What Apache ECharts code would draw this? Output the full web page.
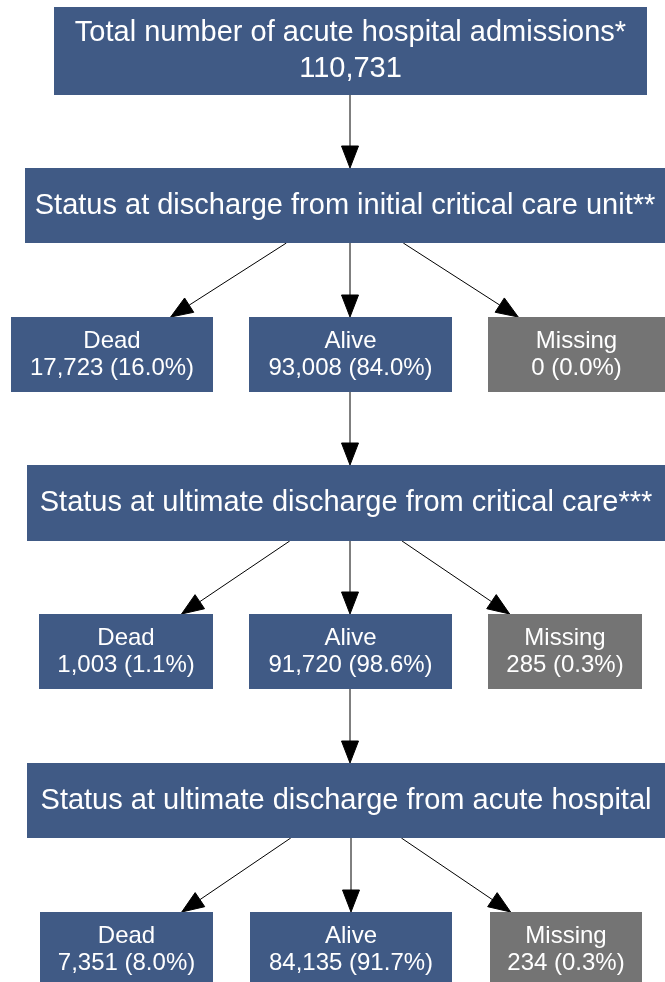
<!DOCTYPE html>
<html lang="en">
<head>
    <meta charset="UTF-8">
    <title>Critical care flow</title>
    <style>
        html, body { margin: 0; padding: 0; background: #fff; }
    </style>
</head>
<body>
<script src="https://cdn.jsdelivr.net/npm/echarts@6/dist/echarts.min.js"></script>

<div id="main" style="width:665px;height:982px;"></div>

<script type="text/javascript">
    // values
    var headers = [
        'Total number of acute hospital admissions*',
        'Status at discharge from initial critical care unit**',
        'Status at ultimate discharge from critical care***',
        'Status at ultimate discharge from acute hospital'
    ];
    var totalAdmissions = 110731;
    var statuses = ['Dead', 'Alive', 'Missing'];

    var initialUnitCounts = [17723, 93008, 0];
    var initialUnitPct = [16.0, 84.0, 0.0];

    var ultimateCareCounts = [1003, 91720, 285];
    var ultimateCarePct = [1.1, 98.6, 0.3];

    var acuteHospitalCounts = [7351, 84135, 234];
    var acuteHospitalPct = [8.0, 91.7, 0.3];

    // layout (pixel space of the 665x982 canvas)
    var headerRects = [
        [54, 7, 647, 95],
        [25, 168, 665, 243],
        [27, 465, 665, 541],
        [27, 763, 665, 838]
    ];
    var rowRects = [
        [[11, 317, 213, 392], [249, 317, 452, 392], [488, 317, 665, 392]],
        [[39, 614, 213, 689], [249, 614, 452, 689], [488, 614, 642, 689]],
        [[40, 912, 213, 987], [250, 912, 452, 987], [490, 912, 642, 987]]
    ];

    var BLUE = '#405a85';
    var GREY = '#747474';
    var FONT = 'Liberation Sans';

    function fmt(n) {
        return n.toLocaleString('en-US');
    }

    var nodes = [];
    nodes.push({id: 'h0', lines: [headers[0], fmt(totalAdmissions)], size: 29, lh: 36, rect: headerRects[0], color: BLUE});
    var rowData = [
        [initialUnitCounts, initialUnitPct],
        [ultimateCareCounts, ultimateCarePct],
        [acuteHospitalCounts, acuteHospitalPct]
    ];
    for (var r = 0; r < 3; r++) {
        nodes.push({id: 'h' + (r + 1), lines: [headers[r + 1]], size: 29, lh: 36, rect: headerRects[r + 1], color: BLUE});
        for (var s = 0; s < statuses.length; s++) {
            nodes.push({
                id: 'r' + r + 's' + s,
                lines: [statuses[s], fmt(rowData[r][0][s]) + ' (' + rowData[r][1][s].toFixed(1) + '%)'],
                size: 24,
                lh: 27,
                rect: rowRects[r][s],
                color: s === 2 ? GREY : BLUE
            });
        }
    }
    var byId = {};
    nodes.forEach(function (n) { byId[n.id] = n; });

    var edges = [['h0', 'h1']];
    for (var r2 = 0; r2 < 3; r2++) {
        for (var s2 = 0; s2 < 3; s2++) {
            edges.push(['h' + (r2 + 1), 'r' + r2 + 's' + s2]);
        }
        if (r2 < 2) edges.push(['r' + r2 + 's1', 'h' + (r2 + 2)]);
    }

    function center(rect) {
        return [(rect[0] + rect[2]) / 2, (rect[1] + rect[3]) / 2];
    }

    var myChart = echarts.init(document.getElementById('main'));

    var option = {
        animation: false,
        grid: {left: 0, right: 0, top: 0, bottom: 0},
        xAxis: {type: 'value', min: 0, max: 665, show: false},
        yAxis: {type: 'value', min: 0, max: 982, inverse: true, show: false},
        series: [{
            name: 'arrows',
            type: 'custom',
            z: 1,
            data: edges.map(function (e, i) { return [i]; }),
            renderItem: function (params, api) {
                var e = edges[params.dataIndex];
                var a = byId[e[0]].rect, b = byId[e[1]].rect;
                var ca = center(a), cb = center(b);
                var tail, tip;
                if (Math.abs(cb[0] - ca[0]) < 12) {
                    // straight down, on the axis of the narrower box
                    var narrow = (a[2] - a[0]) < (b[2] - b[0]) ? ca : cb;
                    var x = Math.floor(narrow[0]);
                    tail = [x, a[3]];
                    tip = [x, b[1]];
                } else {
                    var k = (cb[0] - ca[0]) / (cb[1] - ca[1]);
                    tail = [ca[0] + k * (a[3] - ca[1]), a[3]];
                    tip = [ca[0] + k * (b[1] - ca[1]), b[1]];
                }
                var p0 = api.coord(tail), p1 = api.coord(tip);
                var dx = p1[0] - p0[0], dy = p1[1] - p0[1];
                var len = Math.sqrt(dx * dx + dy * dy);
                var ux = dx / len, uy = dy / len;
                var hl = 22, hw = 8.5;
                var base = [p1[0] - ux * hl, p1[1] - uy * hl];
                return {
                    type: 'group',
                    children: [{
                        type: 'line',
                        shape: {x1: p0[0], y1: p0[1], x2: base[0], y2: base[1]},
                        style: {stroke: '#000', lineWidth: 1}
                    }, {
                        type: 'polygon',
                        shape: {
                            points: [
                                p1,
                                [base[0] - uy * hw, base[1] + ux * hw],
                                [base[0] + uy * hw, base[1] - ux * hw]
                            ]
                        },
                        style: {fill: '#000', stroke: '#000', lineWidth: 1}
                    }]
                };
            }
        }, {
            name: 'boxes',
            type: 'custom',
            z: 2,
            data: nodes.map(function (n, i) { return [i]; }),
            renderItem: function (params, api) {
                var n = nodes[params.dataIndex];
                var p0 = api.coord([n.rect[0], n.rect[1]]);
                var p1 = api.coord([n.rect[2], n.rect[3]]);
                return {
                    type: 'group',
                    children: [{
                        type: 'rect',
                        shape: {x: p0[0], y: p0[1], width: p1[0] - p0[0], height: p1[1] - p0[1]},
                        style: {fill: n.color}
                    }, {
                        type: 'text',
                        style: {
                            text: n.lines.join('\n'),
                            x: (p0[0] + p1[0]) / 2,
                            y: (p0[1] + p1[1]) / 2,
                            align: 'center',
                            verticalAlign: 'middle',
                            fill: '#fff',
                            fontFamily: FONT,
                            fontSize: n.size,
                            lineHeight: n.lh
                        }
                    }]
                };
            }
        }]
    };

    myChart.setOption(option);
</script>
</body>
</html>
